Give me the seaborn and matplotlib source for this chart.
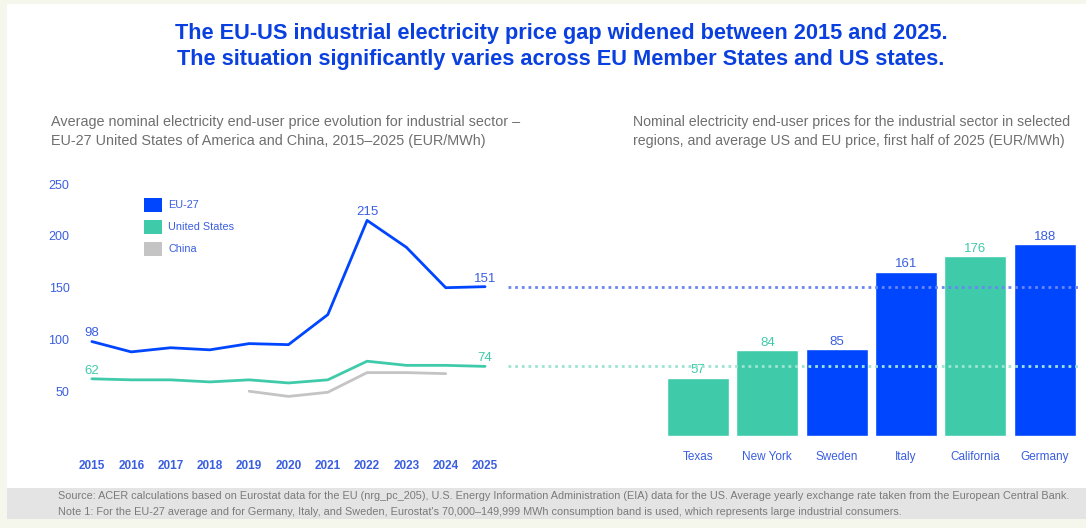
import numpy as np
import pandas as pd
import matplotlib
matplotlib.use("Agg")
import matplotlib.pyplot as plt
import matplotlib.transforms as mtransforms
from matplotlib.patches import Rectangle
import seaborn as sns

# ---- data ----
years = [2015, 2016, 2017, 2018, 2019, 2020, 2021, 2022, 2023, 2024, 2025]
eu27 = [98, 88, 92, 90, 96, 95, 124, 215, 189, 150, 151]
united_states = [62, 61, 61, 59, 61, 58, 61, 79, 75, 75, 74]
china_years = [2019, 2020, 2021, 2022, 2023, 2024]
china = [50, 45, 49, 68, 68, 67]

regions = ["Texas", "New York", "Sweden", "Italy", "California", "Germany"]
region_prices = [57, 84, 85, 161, 176, 188]
region_group = ["US", "US", "EU", "EU", "US", "EU"]
eu_avg = 151
us_avg = 74

# ---- styling ----
BLUE = "#0046ff"
TEAL = "#3fcbaa"
GREY = "#c4c4c4"
TICK = "#3a5ee0"
TITLE = "#0a3fe0"
SUB = "#6f6f6f"

sns.set_theme(style="white")
plt.rcParams["font.family"] = ["Liberation Sans", "DejaVu Sans"]

W, H = 1086, 528
fig = plt.figure(figsize=(W / 100, H / 100), dpi=100)
fig.patch.set_facecolor("#f6f7ec")


def box(x0, y0, x1, y1):
    """Pixel box (top-left origin) -> figure fraction rect."""
    return [x0 / W, 1 - y1 / H, (x1 - x0) / W, (y1 - y0) / H]


# white card and grey footer, kept behind everything else
fig.patches.append(Rectangle((7 / W, 1 - 488 / H), 1, (488 - 4) / H,
                             transform=fig.transFigure, facecolor="white",
                             edgecolor="none", zorder=-10))
fig.patches.append(Rectangle((7 / W, 1 - 519 / H), 1, 31 / H,
                             transform=fig.transFigure, facecolor="#e4e4e4",
                             edgecolor="none", zorder=-10))

fig.text(561 / W, 1 - 33 / H,
         "The EU-US industrial electricity price gap widened between 2015 and 2025.",
         ha="center", va="center", fontsize=15.7, fontweight="bold", color=TITLE)
fig.text(561 / W, 1 - 60 / H,
         "The situation significantly varies across EU Member States and US states.",
         ha="center", va="center", fontsize=15.7, fontweight="bold", color=TITLE)

fig.text(51 / W, 1 - 122 / H,
         "Average nominal electricity end-user price evolution for industrial sector \u2013",
         ha="left", va="center", fontsize=10.4, color=SUB)
fig.text(51 / W, 1 - 141 / H,
         "EU-27 United States of America and China, 2015\u20132025 (EUR/MWh)",
         ha="left", va="center", fontsize=10.4, color=SUB)
fig.text(633 / W, 1 - 122 / H,
         "Nominal electricity end-user prices for the industrial sector in selected",
         ha="left", va="center", fontsize=10.2, color=SUB)
fig.text(633 / W, 1 - 141 / H,
         "regions, and average US and EU price, first half of 2025 (EUR/MWh)",
         ha="left", va="center", fontsize=10.2, color=SUB)

fig.text(58 / W, 1 - 496 / H,
         "Source: ACER calculations based on Eurostat data for the EU (nrg_pc_205), U.S. Energy Information Administration (EIA) data for the US. Average yearly exchange rate taken from the European Central Bank.",
         ha="left", va="center", fontsize=7.85, color="#7a7a7a")
fig.text(58 / W, 1 - 512 / H,
         "Note 1: For the EU-27 average and for Germany, Italy, and Sweden, Eurostat's 70,000\u2013149,999 MWh consumption band is used, which represents large industrial consumers.",
         ha="left", va="center", fontsize=7.85, color="#7a7a7a")

# ---- left: line chart ----
ax1 = fig.add_axes(box(75, 179, 500, 443))
ax1.set_facecolor("none")
line_df = pd.concat([
    pd.DataFrame({"year": years, "price": eu27, "series": "EU-27"}),
    pd.DataFrame({"year": years, "price": united_states, "series": "United States"}),
    pd.DataFrame({"year": china_years, "price": china, "series": "China"}),
])
palette = {"EU-27": BLUE, "United States": TEAL, "China": GREY}
sns.lineplot(data=line_df, x="year", y="price", hue="series", palette=palette,
             linewidth=2, ax=ax1, legend=False, estimator=None)
ax1.set_xlim(2014.57, 2025.38)
ax1.set_ylim(0, 255)
ax1.set_xticks(years)
ax1.set_xticklabels([str(y) for y in years])
ax1.set_yticks([50, 100, 150, 200, 250])
ax1.tick_params(axis="x", colors=TICK, labelsize=8.5, length=0, pad=12)
ax1.tick_params(axis="y", colors=TICK, labelsize=9, length=0, pad=4)
for lbl in ax1.get_xticklabels():
    lbl.set_fontweight("bold")
ax1.set_xlabel("")
ax1.set_ylabel("")
sns.despine(ax=ax1, left=True, bottom=True)

# value callouts
callouts = [
    (years[0], eu27[0], TICK),
    (years[0], united_states[0], TEAL),
    (years[eu27.index(max(eu27))], max(eu27), TICK),
    (years[-1], eu27[-1], TICK),
    (years[-1], united_states[-1], TEAL),
]
for x, y, c in callouts:
    ax1.annotate(str(y), (x, y), xytext=(0, 1.5), textcoords="offset points",
                 ha="center", va="bottom", color=c, fontsize=9.5)

# legend with square swatches
handles = [Rectangle((0, 0), 1, 1, facecolor=palette[s], edgecolor="none")
           for s in ["EU-27", "United States", "China"]]
leg = ax1.legend(handles, ["EU-27", "United States", "China"],
                 loc="upper left", bbox_to_anchor=(0.14, 0.965),
                 frameon=False, fontsize=7.8, handlelength=1.6,
                 handleheight=1.55, handletextpad=0.6, labelspacing=0.78)
for t in leg.get_texts():
    t.set_color(TICK)

# ---- right: bar chart ----
ax2 = fig.add_axes(box(508, 180, 1080, 436))
ax2.set_facecolor("none")
bar_df = pd.DataFrame({"region": regions, "price": region_prices,
                       "group": region_group})
sns.barplot(data=bar_df, x="region", y="price", hue="group",
            palette={"US": TEAL, "EU": BLUE}, dodge=False, width=0.895,
            saturation=1, ax=ax2, legend=False)
ax2.set_xlim(-2.74, 5.51)
ax2.set_ylim(0, 256 / 1.02)
ax2.set_yticks([])
ax2.set_xlabel("")
ax2.set_ylabel("")
ax2.tick_params(axis="x", colors=TICK, labelsize=8.5, length=0, pad=11)
sns.despine(ax=ax2, left=True, bottom=True)

for i, (v, g) in enumerate(zip(region_prices, region_group)):
    ax2.annotate(str(v), (i, v), xytext=(0, 1), textcoords="offset points",
                 ha="center", va="bottom", fontsize=9.5,
                 color=TEAL if g == "US" else TICK)

# average price markers, on the same price scale as the line chart
blend = mtransforms.blended_transform_factory(ax2.transAxes, ax1.transData)
ax2.plot([0, 1], [eu_avg, eu_avg], transform=blend, clip_on=False,
         linestyle=(0, (1, 1.4)), linewidth=2, color="#6a86f2", zorder=5)
ax2.plot([0, 1], [us_avg, us_avg], transform=blend, clip_on=False,
         linestyle=(0, (1, 1.4)), linewidth=2, color="#9ee4d2", zorder=5)

fig.savefig("out.png", dpi=100, facecolor=fig.get_facecolor())
